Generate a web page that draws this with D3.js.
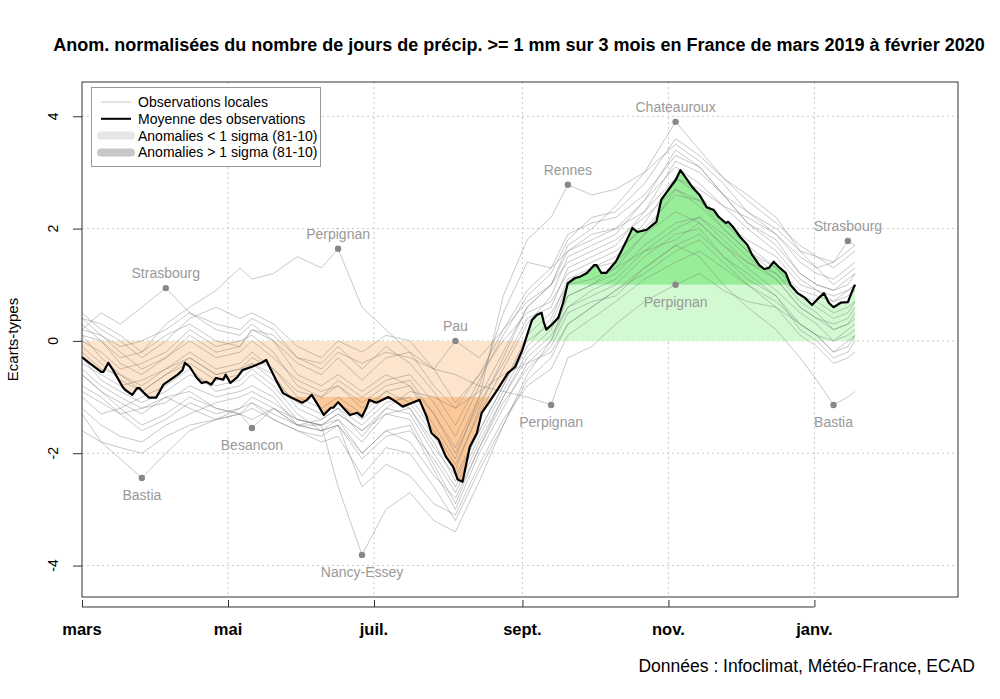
<!DOCTYPE html>
<html><head><meta charset="utf-8">
<script src="https://cdn.jsdelivr.net/npm/d3@7"></script>
<style>body{margin:0;background:#fff} text{font-family:"Liberation Sans",Arial,sans-serif}</style>
</head><body><svg id="c" width="1000" height="699"></svg>
<script>
// ---------- DATA ----------
const startDate = "2019-03-01";
const endDate = "2020-03-01";
const monthTicks = ["2019-03-01","2019-05-01","2019-07-01","2019-09-01","2019-11-01","2020-01-01"];
const monthLabels = ["mars","mai","juil.","sept.","nov.","janv."];
const yTicks = [-4,-2,0,2,4];

// mean of observations (day offset from 1 March 2019, value in sigma)
const meanDays = [0,3,8,9,11,13,17,18,21,23,24,26,28,31,34,37,40,42,43,45,48,50,52,54,56,59,60,62,65,67,71,75,77,79,81,84,87,92,94,96,99,101,104,105,107,110,112,115,117,119,120,123,128,130,134,138,141,144,146,149,152,155,157,159,162,165,167,170,174,178,181,184,186,188,190,192,193,194,196,199,201,203,206,208,211,214,215,217,219,223,225,228,230,232,236,240,242,245,248,250,252,255,258,261,264,266,269,270,272,275,278,280,283,285,287,289,291,294,296,299,302,305,307,310,312,314,317,320,322,323];
const meanValues = [-0.29,-0.39,-0.55,-0.55,-0.39,-0.52,-0.82,-0.87,-0.96,-0.84,-0.84,-0.93,-1.01,-1.01,-0.78,-0.69,-0.60,-0.52,-0.39,-0.46,-0.66,-0.75,-0.73,-0.78,-0.66,-0.69,-0.60,-0.75,-0.64,-0.52,-0.46,-0.39,-0.34,-0.52,-0.69,-0.93,-1.00,-1.10,-1.05,-0.96,-1.17,-1.32,-1.19,-1.19,-1.09,-1.23,-1.32,-1.28,-1.35,-1.17,-1.05,-1.10,-1.00,-1.05,-1.17,-1.10,-1.05,-1.35,-1.64,-1.76,-2.06,-2.24,-2.47,-2.51,-1.89,-1.64,-1.28,-1.10,-0.84,-0.57,-0.46,-0.16,0.11,0.37,0.46,0.50,0.32,0.20,0.28,0.41,0.68,1.03,1.12,1.14,1.21,1.35,1.35,1.21,1.21,1.41,1.57,1.83,2.01,1.94,1.98,2.12,2.51,2.69,2.86,3.04,2.92,2.74,2.60,2.38,2.33,2.21,2.10,2.12,2.03,1.85,1.71,1.53,1.35,1.28,1.30,1.41,1.32,1.21,1.00,0.85,0.77,0.64,0.73,0.85,0.68,0.60,0.68,0.69,0.91,1.00];

// local observations (shared day grid)
const stationDays = [0,8,16,25,35,45,56,66,71,80,90,100,107,117,127,137,147,156,166,176,186,196,203,213,223,235,248,258,268,278,290,300,307,314,320,323];
const stStrasbourg = [0.2,0.5,0.3,0.6,0.94,0.5,0.2,0.1,0.3,0.0,-0.4,-0.6,-0.3,-0.7,-0.3,-0.2,-0.8,-1.2,-0.6,0.2,0.9,1.3,1.6,1.9,2.0,2.3,2.9,2.7,2.4,2.2,1.9,1.5,1.3,1.4,1.78,1.7];
const stBastia = [-1.3,-1.8,-2.1,-2.44,-2.0,-1.6,-1.4,-1.2,-1.1,-1.3,-1.5,-1.4,-1.2,-1.7,-1.2,-0.9,-1.0,-1.2,-0.9,-0.6,-0.4,-0.2,0.3,0.6,0.9,1.3,1.7,1.5,1.0,0.6,0.2,-0.3,-0.7,-1.14,-1.0,-0.9];
const stBesancon = [-0.6,-0.9,-1.1,-1.3,-1.0,-1.2,-1.4,-1.3,-1.55,-1.2,-1.4,-1.5,-1.3,-1.6,-1.3,-1.2,-1.9,-2.4,-1.6,-0.8,0.1,0.5,1.0,1.1,1.3,1.6,2.0,2.2,1.9,1.5,1.1,0.6,0.4,0.3,0.4,0.6];
const stPerpignan = [0.1,0.0,-0.3,-0.2,0.3,0.6,0.9,1.3,1.1,1.2,1.5,1.3,1.64,0.6,0.2,-0.2,-0.5,-0.6,-0.8,-0.9,-1.0,-1.14,-0.3,-0.1,0.3,0.7,1.0,1.2,0.9,0.7,0.6,0.3,0.1,0.0,0.1,0.2];
const stNancy = [-0.9,-1.1,-1.3,-1.2,-1.0,-0.9,-1.2,-1.3,-1.4,-1.2,-1.5,-1.5,-2.6,-3.81,-3.0,-2.7,-3.2,-3.4,-2.5,-1.5,-0.6,0.0,0.8,1.0,1.3,1.9,2.3,2.1,1.7,1.4,1.2,0.8,0.7,0.5,0.6,0.7];
const stPau = [0.4,0.3,0.1,-0.2,0.1,0.3,0.0,-0.1,0.2,0.1,-0.3,-0.5,-0.2,-0.4,-0.2,-0.3,-0.5,0.0,-0.3,0.2,0.7,1.0,1.4,1.6,1.8,2.2,2.7,2.4,2.0,1.6,1.3,0.9,0.8,0.7,0.9,1.0];
const stRennes = [-0.2,-0.5,-0.6,-0.8,-0.5,-0.2,-0.5,-0.4,-0.2,-0.5,-0.9,-1.0,-0.8,-1.2,-0.9,-0.8,-1.5,-2.1,-1.0,0.8,1.8,2.2,2.78,2.6,2.7,3.0,3.5,3.2,2.8,2.3,1.9,1.4,1.2,1.1,1.3,1.4];
const stChateauroux = [-0.1,-0.4,-0.7,-0.9,-0.6,-0.3,-0.6,-0.5,-0.3,-0.5,-1.0,-1.2,-1.0,-1.3,-0.9,-1.1,-1.7,-2.3,-1.2,-0.3,0.6,1.0,1.7,2.0,2.4,3.0,3.9,3.4,2.9,2.6,2.2,1.6,1.3,1.0,1.2,1.3];
const stA = [-0.3,-0.7,-0.9,-1.1,-0.9,-0.6,-0.8,-0.7,-0.5,-0.8,-1.3,-1.6,-1.4,-1.8,-1.3,-1.4,-2.2,-2.9,-1.9,-1.0,-0.2,0.2,0.8,1.0,1.2,1.7,2.1,2.2,1.8,1.4,1.1,0.6,0.4,0.2,0.3,0.5];
const stB = [0.3,0.0,-0.4,-0.6,-0.3,0.1,-0.2,-0.1,0.2,0.0,-0.6,-0.8,-0.6,-0.9,-0.6,-0.8,-1.3,-2.0,-1.1,-0.4,0.4,0.6,1.3,1.5,1.7,2.3,3.2,3.0,2.6,2.1,1.8,1.2,1.0,0.9,1.1,1.2];
const stC = [-0.5,-0.8,-1.0,-1.2,-1.1,-0.8,-1.0,-0.9,-0.8,-1.0,-1.5,-1.6,-1.5,-2.0,-1.6,-1.5,-2.3,-3.0,-2.0,-1.2,-0.4,0.0,0.6,0.8,1.0,1.5,1.9,2.0,1.5,1.2,0.8,0.3,0.1,-0.2,-0.1,0.1];
const stD = [0.0,-0.2,-0.5,-0.4,-0.2,0.2,-0.1,0.0,0.1,-0.2,-0.8,-1.0,-0.7,-1.0,-0.7,-0.6,-1.1,-1.7,-0.8,0.5,1.4,1.3,1.9,2.1,2.2,2.6,3.3,3.1,2.6,2.3,2.0,1.6,1.5,1.3,1.5,1.6];
const stE = [-1.0,-1.3,-1.2,-1.5,-1.3,-1.0,-1.2,-1.3,-1.1,-1.4,-1.6,-1.8,-1.7,-2.4,-1.9,-2.0,-2.6,-3.2,-2.3,-1.5,-0.7,-0.3,0.3,0.6,0.9,1.2,1.6,1.8,1.4,1.0,0.6,0.1,-0.1,-0.4,-0.3,-0.2];
const stF = [0.5,0.2,0.0,-0.3,0.0,0.4,0.6,0.4,0.5,0.3,-0.1,-0.3,0.0,-0.2,0.1,0.0,-0.5,-1.1,-0.6,0.0,0.5,0.7,1.2,1.4,1.6,2.0,2.6,2.5,2.1,1.8,1.5,1.0,0.9,0.7,0.8,0.9];
const stG = [-0.4,-0.6,-0.8,-0.7,-0.5,-0.3,-0.6,-0.5,-0.4,-0.7,-1.1,-1.3,-1.1,-1.4,-1.0,-1.2,-1.8,-2.5,-1.6,-0.8,0.0,0.3,1.0,1.3,1.5,2.1,2.9,2.6,2.1,1.7,1.3,0.8,0.6,0.4,0.5,0.7];
const stH = [-1.6,-1.8,-1.9,-2.0,-1.7,-1.5,-1.4,-1.3,-1.2,-1.4,-1.6,-1.7,-1.5,-2.6,-2.2,-2.4,-2.9,-3.1,-2.2,-1.4,-0.8,-0.5,0.1,0.4,0.7,1.1,1.4,1.6,1.3,1.0,0.7,0.3,0.1,-0.2,0.0,0.1];
const stI = [0.1,-0.3,-0.6,-0.9,-0.6,-0.4,-0.7,-0.6,-0.4,-0.6,-1.2,-1.4,-1.2,-1.5,-1.1,-1.0,-1.6,-2.2,-1.3,-0.5,0.3,0.8,1.5,1.7,1.9,2.5,3.4,3.1,2.6,2.1,1.7,1.2,1.0,0.9,1.0,1.2];
const stJ = [-0.8,-1.0,-1.3,-1.6,-1.4,-1.1,-1.3,-1.2,-1.0,-1.2,-1.5,-1.6,-1.5,-2.1,-1.7,-1.6,-2.1,-2.7,-1.8,-1.0,-0.3,0.1,0.6,0.9,1.1,1.6,1.8,2.1,1.7,1.3,0.9,0.5,0.3,0.0,0.2,0.3];
const stK = [0.2,0.1,-0.2,-0.5,-0.3,0.0,-0.3,-0.2,0.0,-0.3,-0.7,-0.9,-0.8,-1.1,-0.8,-0.7,-1.3,-1.9,-1.0,-0.2,0.6,1.0,1.6,1.8,2.0,2.5,3.1,2.8,2.4,2.0,1.6,1.1,0.9,0.8,0.9,1.0];
const stL = [-0.6,-0.9,-1.2,-1.0,-0.8,-0.5,-0.9,-0.8,-0.6,-0.9,-1.4,-1.5,-1.3,-1.6,-1.2,-1.3,-2.0,-2.6,-1.7,-0.9,-0.1,0.4,1.1,1.3,1.4,1.9,2.7,2.5,2.0,1.6,1.2,0.7,0.5,0.2,0.3,0.4];
const stM = [-1.2,-1.5,-1.7,-1.8,-1.5,-1.3,-1.1,-1.0,-0.9,-1.1,-1.4,-1.5,-1.4,-2.0,-1.6,-1.8,-2.4,-2.8,-1.9,-1.1,-0.5,-0.1,0.5,0.7,0.8,1.3,1.7,1.9,1.5,1.1,0.8,0.2,0.0,-0.3,-0.2,0.0];
const stN = [0.4,0.1,-0.1,0.0,0.2,0.5,0.3,0.2,0.4,0.2,-0.3,-0.4,-0.1,-0.5,-0.1,-0.4,-0.9,-1.5,-0.7,0.1,0.8,1.2,1.8,2.2,2.3,2.8,3.6,3.3,2.9,2.5,2.1,1.7,1.5,1.4,1.6,1.7];
const stations = [stStrasbourg,stBastia,stBesancon,stPerpignan,stNancy,stPau,stRennes,stChateauroux,stA,stB,stC,stD,stE,stF,stG,stH,stI,stJ,stK,stL,stM,stN];

// annotated extremes
const annotNames = ["Strasbourg","Bastia","Besancon","Perpignan","Nancy-Essey","Pau","Rennes","Perpignan","Chateauroux","Perpignan","Strasbourg","Bastia"];
const annotDays = [35,25,71,107,117,156,203,196,248,248,320,314];
const annotValues = [0.94,-2.44,-1.55,1.64,-3.81,0.0,2.78,-1.14,3.9,1.0,1.78,-1.14];
const annotSide = ["above","below","below","above","below","above","above","below","above","below","above","below"];

const legendLabels = ["Observations locales","Moyenne des observations","Anomalies < 1 sigma (81-10)","Anomalies > 1 sigma (81-10)"];
const titleText = "Anom. normalisées du nombre de jours de précip. >= 1 mm sur 3 mois en France de mars 2019 à février 2020";
const creditText = "Données : Infoclimat, Météo-France, ECAD";
const yLabel = "Ecarts-types";

// ---------- CHART ----------
const svg = d3.select("#c");
const L = 82, R = 958, T = 82, B = 597;
const parse = d3.utcParse("%Y-%m-%d");
const t0 = parse(startDate);
const x = d3.scaleUtc().domain([t0, parse(endDate)]).range([L, R]);
const y = d3.scaleLinear().domain([-4.56, 4.61]).range([B, T]);
const dayDate = d => d3.utcDay.offset(t0, d);

const plot = svg.append("g");
plot.append("clipPath").attr("id","clip").append("rect").attr("x",L).attr("y",T).attr("width",R-L).attr("height",B-T);

// grid
const gridDates = monthTicks.slice(1).map(parse);
plot.selectAll(".gx").data(gridDates).join("line")
  .attr("x1",d=>x(d)).attr("x2",d=>x(d)).attr("y1",T).attr("y2",B)
  .attr("stroke","#c8c8c8").attr("stroke-dasharray","2,3").attr("stroke-width",1);
plot.selectAll(".gy").data(yTicks).join("line")
  .attr("x1",L).attr("x2",R).attr("y1",d=>y(d)).attr("y2",d=>y(d))
  .attr("stroke","#c8c8c8").attr("stroke-dasharray","2,3").attr("stroke-width",1);

// mean points with threshold crossings inserted
let meanPts = d3.zip(meanDays, meanValues).map(([d,v]) => ({d, v}));
function densify(pts, ths){
  const out = [pts[0]];
  for (let i=1;i<pts.length;i++){
    const a = pts[i-1], b = pts[i];
    const cross = [];
    ths.forEach(t => {
      if ((a.v - t)*(b.v - t) < 0){
        const f = (t - a.v)/(b.v - a.v);
        cross.push({d: a.d + f*(b.d-a.d), v: t});
      }
    });
    cross.sort((p,q)=>p.d-q.d).forEach(c=>out.push(c));
    out.push(b);
  }
  return out;
}
const dense = densify(meanPts, [-1,0,1]);
const fills = plot.append("g").attr("clip-path","url(#clip)");
const mkArea = (f0, f1) => d3.area().x(p=>x(dayDate(p.d))).y0(p=>y(f0(p.v))).y1(p=>y(f1(p.v)));
fills.append("path").datum(dense).attr("fill","#fde4cc")
  .attr("d", mkArea(()=>0, v=>Math.max(Math.min(v,0),-1)));
fills.append("path").datum(dense).attr("fill","#fcc898")
  .attr("d", mkArea(()=>-1, v=>Math.min(v,-1)));
fills.append("path").datum(dense).attr("fill","#d2f9d2")
  .attr("d", mkArea(()=>0, v=>Math.min(Math.max(v,0),1)));
fills.append("path").datum(dense).attr("fill","#98ee98")
  .attr("d", mkArea(()=>1, v=>Math.max(v,1)));

// station lines
const stLine = d3.line().x((v,i)=>x(dayDate(stationDays[i]))).y(v=>y(v));
plot.append("g").attr("clip-path","url(#clip)").selectAll("path").data(stations).join("path")
  .attr("d", stLine).attr("fill","none").attr("stroke","#777").attr("stroke-opacity",0.45).attr("stroke-width",0.9);

// mean line
plot.append("path").datum(meanPts)
  .attr("d", d3.line().x(p=>x(dayDate(p.d))).y(p=>y(p.v)))
  .attr("fill","none").attr("stroke","#000").attr("stroke-width",2.2).attr("stroke-linejoin","round");

// annotations
const ann = plot.append("g");
annotNames.forEach((n,i)=>{
  const cx = x(dayDate(annotDays[i])), cy = y(annotValues[i]);
  ann.append("circle").attr("cx",cx).attr("cy",cy).attr("r",3.2).attr("fill","#888");
  ann.append("text").attr("x",cx).attr("y", annotSide[i]==="above" ? cy-10 : cy+22)
    .attr("text-anchor","middle").attr("font-size",14).attr("fill","#999").text(n);
});

// box
svg.append("rect").attr("x",L).attr("y",T).attr("width",R-L).attr("height",B-T)
  .attr("fill","none").attr("stroke","#333").attr("stroke-width",1);

// legend
const lg = svg.append("g");
lg.append("rect").attr("x",91.5).attr("y",87.5).attr("width",229).attr("height",79).attr("fill","#fff").attr("stroke","#999");
const legStyles = [{c:"#c4c4c4",w:1},{c:"#000",w:2},{c:"#e6e6e6",w:8},{c:"#c8c8c8",w:8}];
legendLabels.forEach((lab,i)=>{
  const yy = 102 + i*16.8;
  lg.append("line").attr("x1",101).attr("x2",131).attr("y1",yy).attr("y2",yy)
    .attr("stroke",legStyles[i].c).attr("stroke-width",legStyles[i].w).attr("stroke-linecap", legStyles[i].w>4?"round":"butt");
  lg.append("text").attr("x",138).attr("y",yy+5).attr("font-size",14).attr("fill","#000").text(lab);
});

// y axis
const yAxis = svg.append("g").attr("transform",`translate(${L},0)`)
  .call(d3.axisLeft(y).tickValues(yTicks).tickSize(9).tickFormat(""));
yAxis.select(".domain").remove();
yAxis.selectAll("line").attr("stroke","#333");
svg.selectAll(".ylab").data(yTicks).join("text")
  .attr("transform",d=>`translate(58,${y(d)}) rotate(-90)`)
  .attr("text-anchor","middle").attr("font-size",14).text(d=>d);
svg.append("text").attr("transform",`translate(18,${(T+B)/2}) rotate(-90)`)
  .attr("text-anchor","middle").attr("font-size",15).text(yLabel);

// x axis
const tickDates = monthTicks.map(parse);
const xAxis = svg.append("g").attr("transform",`translate(0,607)`)
  .call(d3.axisTop(x).tickValues(tickDates).tickSize(7).tickFormat(""));
xAxis.select(".domain").attr("d",`M${x(tickDates[0])},0H${x(tickDates[tickDates.length-1])}`).attr("stroke","#333");
xAxis.selectAll("line").attr("stroke","#333");
svg.selectAll(".xlab").data(tickDates).join("text")
  .attr("x",d=>x(d)).attr("y",635).attr("text-anchor","middle")
  .attr("font-size",16.5).attr("font-weight","bold").text((d,i)=>monthLabels[i]);

// title and credits
svg.append("text").attr("x",(L+R)/2 - 1).attr("y",51).attr("text-anchor","middle")
  .attr("font-size",18).attr("font-weight","bold").text(titleText);
svg.append("text").attr("x",975).attr("y",672).attr("text-anchor","end")
  .attr("font-size",17.5).text(creditText);
</script></body></html>
